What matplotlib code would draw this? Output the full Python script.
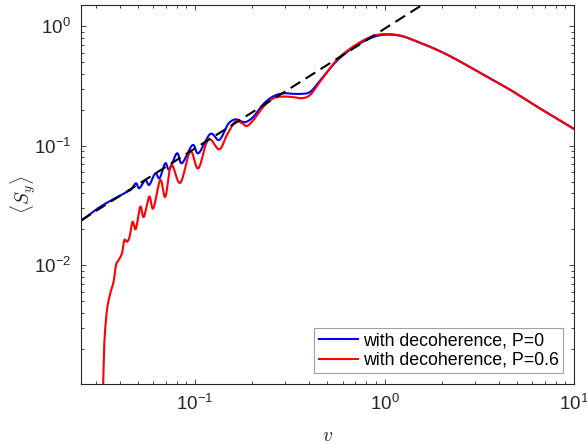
import numpy as np
import matplotlib
matplotlib.use("Agg")
import matplotlib.pyplot as plt

plt.rcParams['font.family'] = ['Liberation Sans', 'DejaVu Sans']
plt.rcParams['mathtext.fontset'] = 'cm'

# curva azul: con decoherencia, P=0
v_p0 = [0.02506, 0.0316, 0.0403, 0.04387, 0.04606, 0.04875, 0.05077, 0.05459,
        0.05731, 0.06166, 0.06497, 0.06963, 0.07311, 0.08025, 0.08529, 0.09701,
        0.1043, 0.1203, 0.1342, 0.1497, 0.1630, 0.1753, 0.1863, 0.2036, 0.2298,
        0.2586, 0.2920, 0.3298, 0.3635, 0.4055, 0.4578, 0.5608, 0.6863, 0.8405,
        0.9879, 1.210, 1.483, 1.890, 2.411, 3.330, 4.606, 6.372, 10.06]
s_p0 = [0.02361, 0.03093, 0.03838, 0.04146, 0.04309, 0.04855, 0.04409, 0.05173,
        0.04699, 0.05887, 0.05346, 0.07139, 0.06335, 0.08654, 0.07139, 0.1015,
        0.08654, 0.1255, 0.1118, 0.1522, 0.1660, 0.1597, 0.1582, 0.1751, 0.2238,
        0.2586, 0.2740, 0.2713, 0.2713, 0.2820, 0.3520, 0.5126, 0.6646, 0.7904,
        0.8456, 0.8294, 0.7433, 0.6336, 0.5224, 0.3913, 0.2931, 0.2124, 0.1374]

# curva roja: con decoherencia, P=0.6
v_p06 = [0.03266, 0.03318, 0.03427, 0.03568, 0.03714, 0.03825, 0.03948, 0.04114,
         0.04231, 0.04371, 0.04512, 0.04680, 0.04866, 0.05138, 0.05362, 0.05731,
         0.06017, 0.06553, 0.06963, 0.07487, 0.08353, 0.09434, 0.1040, 0.1174,
         0.1342, 0.1473, 0.1630, 0.1768, 0.1879, 0.2036, 0.2298, 0.2596, 0.2931,
         0.3311, 0.3665, 0.4055, 0.4578, 0.5608, 0.6863, 0.8405, 0.9879, 1.210,
         1.483, 1.890, 2.411, 3.330, 4.606, 6.372, 10.06]
s_p06 = [0.0009, 0.002225, 0.004225, 0.005831, 0.007292, 0.01006, 0.01107, 0.01260,
         0.01628, 0.01575, 0.01735, 0.02317, 0.02013, 0.03093, 0.02536, 0.03765,
         0.02987, 0.05173, 0.03729, 0.06908, 0.04883, 0.08961, 0.06457, 0.1129,
         0.09311, 0.1231, 0.1591, 0.1543, 0.1464, 0.1644, 0.2124, 0.2497, 0.2575,
         0.2545, 0.2497, 0.2662, 0.3451, 0.5224, 0.6776, 0.8091, 0.8572, 0.8344,
         0.7433, 0.6336, 0.5224, 0.3913, 0.2931, 0.2124, 0.1374]

# ajuste lineal (línea discontinua)
v_fit = [0.025, 1.6]
s_fit = [0.02375, 1.52]


def smooth_loglog(x, y, n=8):
    # interpolación suave en escala log-log para dibujar la curva
    lx, ly = np.log10(x), np.log10(y)
    tt = np.linspace(0, len(lx) - 1, (len(lx) - 1) * n + 1)
    # spline de Catmull-Rom
    px = np.concatenate([[2 * lx[0] - lx[1]], lx, [2 * lx[-1] - lx[-2]]])
    py = np.concatenate([[2 * ly[0] - ly[1]], ly, [2 * ly[-1] - ly[-2]]])
    ox, oy = [], []
    for u in tt:
        i = min(int(u), len(lx) - 2)
        s = u - i
        def cr(a, b, c, d):
            return 0.5 * ((2 * b) + (-a + c) * s + (2 * a - 5 * b + 4 * c - d) * s**2
                          + (-a + 3 * b - 3 * c + d) * s**3)
        ox.append(cr(*px[i:i + 4]))
        oy.append(cr(*py[i:i + 4]))
    return 10**np.array(ox), 10**np.array(oy)


fig = plt.figure(figsize=(5.87, 4.45), dpi=100)
ax = fig.add_axes([81 / 587, 61 / 445, 493 / 587, 379 / 445])

xb, yb = smooth_loglog(v_p0, s_p0)
xr, yr = smooth_loglog(v_p06, s_p06)
lb, = ax.plot(xb, yb, color='b', lw=1.5, label='with decoherence, P=0')
lr, = ax.plot(xr, yr, color='r', lw=1.5, label='with decoherence, P=0.6')
ax.plot(v_fit, s_fit, color='k', lw=1.5, ls=(0, (5.5, 3)))

ax.set_xscale('log')
ax.set_yscale('log')
ax.set_xlim(0.025, 10)
ax.set_ylim(1.02e-3, 1.5)

ax.tick_params(which='both', direction='in', top=True, right=True,
               colors='#262626', labelsize=13.5, pad=7)
ax.tick_params(which='major', length=3.5, width=0.6)
ax.tick_params(which='minor', length=2.5, width=0.6)
for sp in ax.spines.values():
    sp.set_color('#262626')
    sp.set_linewidth(0.8)

ax.set_xlabel(r'$v$', fontsize=14, color='#262626', labelpad=10)
ax.set_ylabel(r'$\langle S_y \rangle$', fontsize=14, color='#262626', labelpad=-3)

leg = ax.legend(handles=[lb, lr], loc='lower right', fontsize=12.8,
                handlelength=2.2, borderaxespad=0.6, fancybox=False,
                framealpha=1, edgecolor='#a0a0a0', borderpad=0.25,
                labelspacing=0.15, handletextpad=0.3)
leg.get_frame().set_linewidth(0.8)

fig.savefig('out.png', dpi=100)
